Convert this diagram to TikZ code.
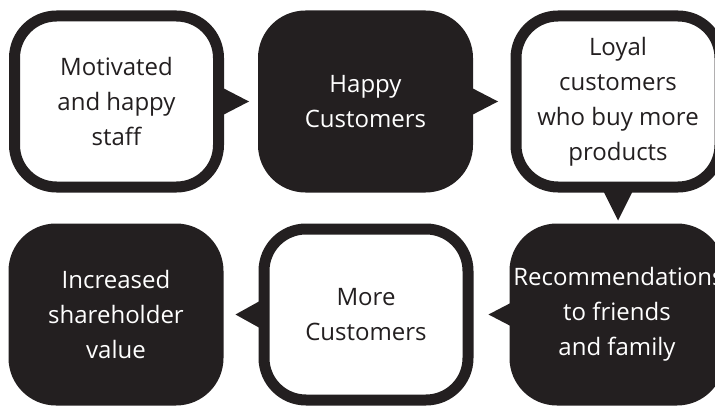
\documentclass[tikz,border=0pt]{standalone}
\usepackage{fontspec}
\setmainfont{Open Sans}
\usetikzlibrary{calc}
\definecolor{ink}{RGB}{35,31,32}
\begin{document}
\begin{tikzpicture}[x=1pt,y=-1pt,
  bubble/.style={draw=ink, line width=11pt, rounded corners=42pt,
    minimum width=204pt, minimum height=171pt, inner sep=0pt,
    align=center, font=\fontsize{24}{35}\selectfont},
  lightbox/.style={bubble, fill=white, text=ink},
  darkbox/.style={bubble, fill=ink, text=white},
  pointer/.style={fill=ink}]
\useasboundingbox (0,0) rectangle (715,409);
\clip (0,0) rectangle (715,409);

% top row
\node[lightbox] (staff) at (116.5,101.5) {Motivated\\and happy\\staff};
\node[darkbox]  (happy) at (365.5,101.5) {Happy\\Customers};
\node[lightbox] (loyal) at (618,101.5) {Loyal\\customers\\who buy more\\products};

% bottom row
\node[darkbox]  (value) at (116,314.5) {Increased\\shareholder\\value};
\node[lightbox] (more)  at (366,314.5) {More\\Customers};
\node[darkbox]  (recom) at (617,314.5) {\makebox[0pt]{\hspace*{3pt}Recommendations}\\to friends\\and family};

% speech-bubble pointers
\fill[pointer] ($(staff.east)+(-4,-15)$) -- ($(staff.east)+(25,0)$) -- ($(staff.east)+(-4,15)$) -- cycle;
\fill[pointer] ($(happy.east)+(-4,-15)$) -- ($(happy.east)+(25,0)$) -- ($(happy.east)+(-4,15)$) -- cycle;
\fill[pointer] ($(loyal.south)+(-16,-4)$) -- ($(loyal.south)+(0,28)$) -- ($(loyal.south)+(16,-4)$) -- cycle;
\fill[pointer] ($(recom.west)+(4,-13)$) -- ($(recom.west)+(-21,0)$) -- ($(recom.west)+(4,13)$) -- cycle;
\fill[pointer] ($(more.west)+(4,-15)$) -- ($(more.west)+(-23,0)$) -- ($(more.west)+(4,15)$) -- cycle;
\end{tikzpicture}
\end{document}
